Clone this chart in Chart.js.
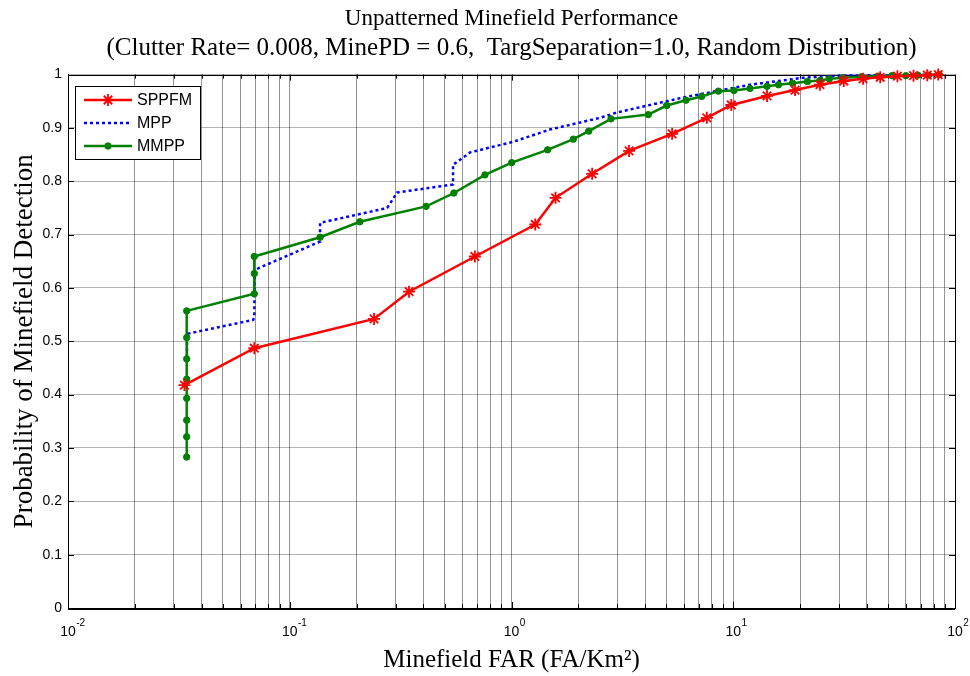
<!DOCTYPE html>
<html>
<head>
<meta charset="utf-8">
<script src="https://cdn.jsdelivr.net/npm/chart.js@4.4.1/dist/chart.umd.min.js"></script>
<style>
  body { margin: 0; background: #fff; }
  canvas { display: block; }
</style>
</head>
<body>
<canvas id="grafica" width="970" height="676"></canvas>
<script>
// Datos
const titleLine = "Unpatterned Minefield Performance";
const subtitleLine = "(Clutter Rate= 0.008, MinePD = 0.6,  TargSeparation=1.0, Random Distribution)";
const seriesNames = ["SPPFM", "MPP", "MMPP"];

const sppfmX = [0.0335, 0.0692, 0.24, 0.345, 0.684, 1.28, 1.58, 2.31, 3.39, 5.3, 7.6, 9.8,
  14.2, 19.0, 24.6, 31.5, 38.5, 46, 55, 65, 75, 84];
const sppfmY = [0.418, 0.487, 0.542, 0.593, 0.659, 0.719, 0.769, 0.814, 0.857, 0.889, 0.919, 0.943,
  0.960, 0.971, 0.981, 0.988, 0.992, 0.995, 0.997, 0.998, 0.999, 1.0];

const mppX = [0.0344, 0.0344, 0.0683, 0.0692, 0.0695, 0.137, 0.137, 0.275, 0.305, 0.545, 0.545,
  0.650, 1.016, 1.49, 2.51, 2.99, 5.93, 11.9, 20.6, 30.3, 88];
const mppY = [0.470, 0.514, 0.540, 0.545, 0.634, 0.687, 0.722, 0.750, 0.779, 0.794, 0.831,
  0.854, 0.874, 0.897, 0.919, 0.929, 0.957, 0.981, 0.994, 0.998, 1.0];

const mmppX = [0.0343, 0.0343, 0.0343, 0.0343, 0.0343, 0.0343, 0.0343, 0.0343, 0.0692, 0.0692, 0.0692,
  0.137, 0.207, 0.412, 0.550, 0.759, 1.002, 1.455, 1.90, 2.23, 2.81, 4.14, 5.01, 6.12, 7.2, 8.57,
  10.07, 11.9, 14.2, 16.0, 18.5, 21.6, 24.6, 27.1, 31.1, 37.9, 45, 52, 60, 68, 76, 85];
const mmppY = [0.283, 0.321, 0.352, 0.393, 0.429, 0.467, 0.507, 0.557, 0.589, 0.627, 0.659,
  0.695, 0.724, 0.753, 0.778, 0.812, 0.835, 0.859, 0.879, 0.894, 0.917, 0.925, 0.942, 0.952, 0.959, 0.969,
  0.970, 0.974, 0.978, 0.981, 0.984, 0.987, 0.989, 0.992, 0.994, 0.996, 0.997, 0.998, 0.998, 0.999, 0.999, 1.0];

// Ejes
const xDecades = [0.01, 0.1, 1, 10, 100];
const xDecadeExp = ["-2", "-1", "0", "1", "2"];
const xMinorMult = [2, 3, 4, 5, 6, 7, 8, 9];
const yTicks = [0, 0.1, 0.2, 0.3, 0.4, 0.5, 0.6, 0.7, 0.8, 0.9, 1];

const xGrid = [];
xDecades.forEach((d, i) => {
  xGrid.push(d);
  if (i < xDecades.length - 1) xMinorMult.forEach((m) => xGrid.push(+(d * m).toPrecision(3)));
});

const toPoints = (xs, ys) => xs.map((x, i) => ({ x, y: ys[i] }));

const serif = "'Liberation Serif', 'Times New Roman', serif";
const sans = "'Liberation Sans', Arial, sans-serif";

// Marco, ticks internos y exponentes del eje X
const marco = {
  id: "marco",
  beforeDatasetsDraw(chart) {
    const { ctx, chartArea: a } = chart;
    const xs = chart.scales.x, ys = chart.scales.y;
    ctx.save();
    ctx.strokeStyle = "#000";
    ctx.lineWidth = 1;
    ctx.beginPath();
    xs.ticks.forEach((t) => {
      const px = Math.round(xs.getPixelForValue(t.value)) + 0.5;
      const len = xDecades.includes(t.value) ? 6 : 4;
      ctx.moveTo(px, a.bottom); ctx.lineTo(px, a.bottom - len);
      ctx.moveTo(px, a.top); ctx.lineTo(px, a.top + len);
    });
    ys.ticks.forEach((t) => {
      const py = Math.round(ys.getPixelForValue(t.value)) + 0.5;
      ctx.moveTo(a.left, py); ctx.lineTo(a.left + 6, py);
      ctx.moveTo(a.right, py); ctx.lineTo(a.right - 6, py);
    });
    ctx.stroke();
    ctx.strokeRect(Math.round(a.left) + 0.5, Math.round(a.top) + 0.5,
      Math.round(a.right - a.left), Math.round(a.bottom - a.top));
    ctx.lineWidth = 2;
    ctx.beginPath();
    ctx.moveTo(a.left, Math.round(a.bottom) + 1);
    ctx.lineTo(a.right, Math.round(a.bottom) + 1);
    ctx.stroke();
    ctx.restore();
  },
  afterDraw(chart) {
    const { ctx } = chart;
    const xs = chart.scales.x;
    ctx.save();
    ctx.fillStyle = "#000";
    ctx.textBaseline = "middle";
    xDecades.forEach((d, i) => {
      const px = xs.getPixelForValue(d);
      ctx.font = "14px " + sans;
      const w = ctx.measureText("10").width;
      ctx.textAlign = "center";
      ctx.fillText("10", px, xs.top + 24);
      ctx.font = "10px " + sans;
      ctx.textAlign = "left";
      ctx.fillText(xDecadeExp[i], px + w / 2 + 0.5, xs.top + 15);
    });
    ctx.restore();
  },
};

// Leyenda con recuadro, estilo MATLAB
const leyenda = {
  id: "leyenda",
  afterDraw(chart) {
    const { ctx, chartArea: a } = chart;
    const x0 = Math.round(a.left) + 7, y0 = Math.round(a.top) + 11, w = 125, h = 73;
    ctx.save();
    ctx.fillStyle = "#fff";
    ctx.fillRect(x0, y0, w, h);
    ctx.strokeStyle = "#000";
    ctx.lineWidth = 1;
    ctx.strokeRect(x0 + 0.5, y0 + 0.5, w, h);
    chart.data.datasets.forEach((ds, i) => {
      const y = y0 + 14 + i * 23;
      ctx.strokeStyle = ds.borderColor;
      ctx.lineWidth = ds.borderWidth;
      ctx.setLineDash(ds.borderDash || []);
      ctx.beginPath();
      ctx.moveTo(x0 + 9, y);
      ctx.lineTo(x0 + 57, y);
      ctx.stroke();
      ctx.setLineDash([]);
      if (ds.pointRadius > 0) {
        ctx.fillStyle = ds.pointBackgroundColor;
        ctx.strokeStyle = ds.pointBorderColor;
        ctx.lineWidth = ds.pointBorderWidth;
        Chart.helpers.drawPoint(ctx, {
          pointStyle: ds.pointStyle, radius: ds.pointRadius, borderWidth: ds.pointBorderWidth, rotation: 0,
        }, x0 + 33, y);
      }
      ctx.fillStyle = "#000";
      ctx.font = "16px " + sans;
      ctx.textAlign = "left";
      ctx.textBaseline = "middle";
      ctx.fillText(ds.label, x0 + 62, y + 1);
    });
    ctx.restore();
  },
};

new Chart(document.getElementById("grafica"), {
  type: "line",
  data: {
    datasets: [
      {
        label: seriesNames[0],
        data: toPoints(sppfmX, sppfmY),
        borderColor: "#ff0000",
        borderWidth: 2.5,
        pointStyle: "star",
        pointRadius: 6,
        pointBorderColor: "#ff0000",
        pointBackgroundColor: "#ff0000",
        pointBorderWidth: 1.8,
        order: 0,
      },
      {
        label: seriesNames[1],
        data: toPoints(mppX, mppY),
        borderColor: "#0000ff",
        borderWidth: 2.5,
        borderDash: [3, 3],
        pointRadius: 0,
        order: 2,
      },
      {
        label: seriesNames[2],
        data: toPoints(mmppX, mmppY),
        borderColor: "#008000",
        borderWidth: 2.5,
        pointStyle: "circle",
        pointRadius: 3.2,
        pointBorderColor: "#008000",
        pointBackgroundColor: "#008000",
        pointBorderWidth: 1,
        order: 1,
      },
    ],
  },
  options: {
    responsive: false,
    animation: false,
    devicePixelRatio: 1,
    clip: false,
    layout: { padding: { left: 0, right: 15, top: 0, bottom: 0 } },
    elements: { line: { tension: 0 } },
    plugins: {
      legend: { display: false },
      tooltip: { enabled: false },
      title: {
        display: true,
        fullSize: false,
        text: titleLine,
        color: "#000",
        font: { family: serif, size: 23, weight: "normal", lineHeight: 1.2 },
        padding: { top: 5, bottom: 1 },
      },
      subtitle: {
        display: true,
        fullSize: false,
        text: subtitleLine,
        color: "#000",
        font: { family: serif, size: 25, weight: "normal", lineHeight: 1.2 },
        padding: { top: 0, bottom: 11 },
      },
    },
    scales: {
      x: {
        type: "logarithmic",
        min: 0.01,
        max: 100,
        afterBuildTicks: (scale) => {
          scale.ticks = xGrid.map((v) => ({ value: v, major: xDecades.includes(v) }));
        },
        afterFit: (scale) => { scale.height = 68; },
        ticks: { autoSkip: false, maxRotation: 0, callback: () => "" },
        grid: { color: "rgba(0,0,0,0.42)", drawTicks: false },
        border: { color: "#000", width: 1 },
        title: {
          display: true,
          text: "Minefield FAR (FA/Km²)",
          color: "#000",
          font: { family: serif, size: 25, weight: "normal" },
          padding: { top: 0, bottom: 1 },
        },
      },
      y: {
        type: "linear",
        min: 0,
        max: 1,
        afterBuildTicks: (scale) => {
          scale.ticks = yTicks.map((v) => ({ value: v }));
        },
        afterFit: (scale) => { scale.width = 68; },
        ticks: {
          color: "#000",
          font: { family: sans, size: 14 },
          padding: 6,
          callback: (v) => String(v),
        },
        grid: { color: "rgba(0,0,0,0.3)", drawTicks: false },
        border: { color: "#000", width: 1 },
        title: {
          display: true,
          text: "Probability of Minefield Detection",
          color: "#000",
          font: { family: serif, size: 27, weight: "normal" },
          padding: { top: 9, bottom: 0 },
        },
      },
    },
  },
  plugins: [marco, leyenda],
});
</script>
</body>
</html>
